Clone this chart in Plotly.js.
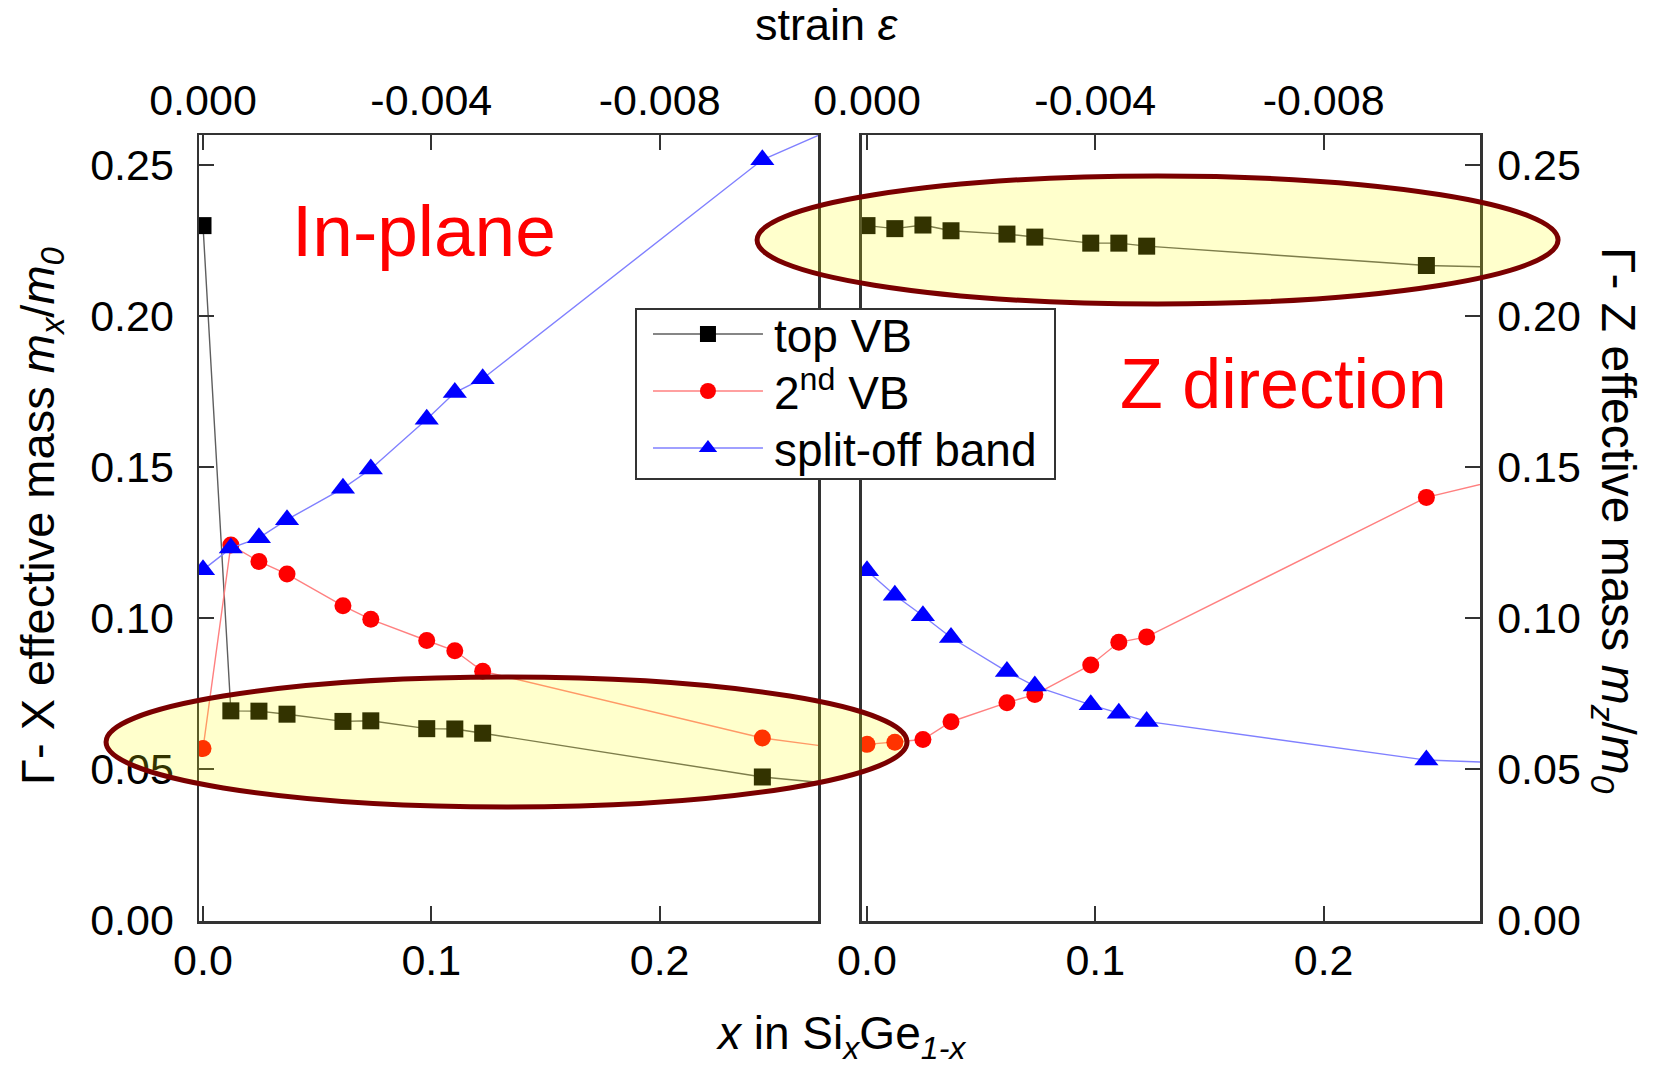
<!DOCTYPE html>
<html>
<head>
<meta charset="utf-8">
<script src="https://cdn.plot.ly/plotly-3.0.1.min.js"></script>
<style>
  html, body { margin: 0; padding: 0; background: #fff; }
  #chart { width: 1657px; height: 1065px; }
</style>
</head>
<body>
<div id="chart"></div>
<script>
// Si fraction x of the SixGe1-x alloy (last point lies beyond the visible range)
const siFraction = [0, 0.0122, 0.0245, 0.0368, 0.0613, 0.0735, 0.098, 0.1103, 0.1225, 0.245, 0.5];

// In-plane (Γ-X) effective masses, m_x/m_0
const topVB_inPlane    = [0.230, 0.0693, 0.0692, 0.0682, 0.0658, 0.0660, 0.0634, 0.0633, 0.0619, 0.0474, 0.0293];
const secondVB_inPlane = [0.0568, 0.1242, 0.1188, 0.1146, 0.1041, 0.0996, 0.0926, 0.0892, 0.0824, 0.0603, 0.0348];
const splitOff_inPlane = [0.1160, 0.1232, 0.1266, 0.1326, 0.1430, 0.1494, 0.1659, 0.1747, 0.1793, 0.2518, 0.336];

// Z direction (Γ-Z) effective masses, m_z/m_0
const topVB_zDir    = [0.2300, 0.2290, 0.2302, 0.2283, 0.2272, 0.2262, 0.2242, 0.2242, 0.2232, 0.2168, 0.212];
const secondVB_zDir = [0.0582, 0.0589, 0.0598, 0.0657, 0.0720, 0.0747, 0.0845, 0.0920, 0.0938, 0.1400, 0.186];
const splitOff_zDir = [0.1157, 0.1076, 0.1008, 0.0936, 0.0823, 0.0775, 0.0713, 0.0685, 0.0658, 0.0530, 0.046];

// Series names
const seriesNames = ['top VB', '2<sup>nd</sup> VB', 'split-off band'];

// Tick labels
const xTickVals = [0, 0.1, 0.2];
const xTickText = ['0.0', '0.1', '0.2'];
const strainTickVals = [0, -0.004, -0.008];
const strainTickText = ['0.000', '-0.004', '-0.008'];
const massTickVals = [0, 0.05, 0.10, 0.15, 0.20, 0.25];
const massTickText = ['0.00', '0.05', '0.10', '0.15', '0.20', '0.25'];

// Strain scale: ε = -0.04·x
const strainPerX = -0.04;

const FONT = 'Liberation Sans, Arial, Helvetica, sans-serif';

const styles = [
  { symbol: 'square',      size: 17, color: '#000000', line: '#5e5e5e' },
  { symbol: 'circle',      size: 17, color: '#ff0000', line: '#ff8080' },
  { symbol: 'triangle-up', size: 21, color: '#0000ff', line: '#8080ff' }
];

function series(y, i, xa, ya, showLegend) {
  const s = styles[i];
  return {
    type: 'scatter', mode: 'lines+markers',
    x: siFraction, y: y, xaxis: xa, yaxis: ya,
    name: seriesNames[i], showlegend: showLegend,
    line: { color: s.line, width: 1.4 },
    marker: { symbol: s.symbol, size: s.size, color: s.color, line: { width: 0 } },
    cliponaxis: true
  };
}

// empty traces that attach the top strain axes to each panel
function strainAxisHolder(xa, ya) {
  return {
    type: 'scatter', mode: 'markers', x: strainTickVals, y: strainTickVals.map(() => null),
    xaxis: xa, yaxis: ya, showlegend: false, hoverinfo: 'skip'
  };
}

const traces = [
  series(topVB_inPlane, 0, 'x', 'y', true),
  series(secondVB_inPlane, 1, 'x', 'y', true),
  series(splitOff_inPlane, 2, 'x', 'y', true),
  series(topVB_zDir, 0, 'x2', 'y2', false),
  series(secondVB_zDir, 1, 'x2', 'y2', false),
  series(splitOff_zDir, 2, 'x2', 'y2', false),
  strainAxisHolder('x3', 'y'),
  strainAxisHolder('x4', 'y2')
];

const axisBase = {
  showline: true, linecolor: '#333', linewidth: 2.5,
  ticks: 'inside', ticklen: 15, tickwidth: 2, tickcolor: '#333',
  tickfont: { family: FONT, size: 43, color: '#000' },
  showgrid: false, zeroline: false, fixedrange: true
};

const xRangeL = [-0.00175, 0.2694];
const xRangeR = [-0.0022, 0.2685];
const yRange = [-0.0003, 0.2600];
const yDomain = [0.1352, 0.8732];

const layout = {
  width: 1657, height: 1065,
  margin: { l: 0, r: 0, t: 0, b: 0 },
  paper_bgcolor: '#fff', plot_bgcolor: 'rgba(0,0,0,0)',
  font: { family: FONT, color: '#000' },
  showlegend: true,
  xaxis:  Object.assign({}, axisBase, { domain: [0.1201, 0.4937], range: xRangeL, anchor: 'y',
            tickmode: 'array', tickvals: xTickVals, ticktext: xTickText }),
  xaxis2: Object.assign({}, axisBase, { domain: [0.5202, 0.8932], range: xRangeR, anchor: 'y2',
            tickmode: 'array', tickvals: xTickVals, ticktext: xTickText }),
  xaxis3: Object.assign({}, axisBase, { overlaying: 'x', side: 'top', anchor: 'y',
            range: xRangeL.map(v => v * strainPerX),
            tickmode: 'array', tickvals: strainTickVals, ticktext: strainTickText }),
  xaxis4: Object.assign({}, axisBase, { overlaying: 'x2', side: 'top', anchor: 'y2',
            range: xRangeR.map(v => v * strainPerX),
            tickmode: 'array', tickvals: strainTickVals, ticktext: strainTickText }),
  yaxis:  Object.assign({}, axisBase, { domain: yDomain, range: yRange, anchor: 'x', side: 'left',
            mirror: true, ticklabelstandoff: 14,
            tickmode: 'array', tickvals: massTickVals, ticktext: massTickText }),
  yaxis2: Object.assign({}, axisBase, { domain: yDomain, range: yRange, anchor: 'x2', side: 'right',
            mirror: true, ticklabelstandoff: 6,
            tickmode: 'array', tickvals: massTickVals, ticktext: massTickText }),
  legend: {
    x: 0.3832, y: 0.7108, xanchor: 'left', yanchor: 'top',
    bgcolor: '#fff', bordercolor: '#333', borderwidth: 2,
    font: { family: FONT, size: 46, color: '#000' },
    itemwidth: 127, tracegroupgap: 0
  },
  shapes: [
    { type: 'circle', xref: 'paper', yref: 'paper', layer: 'above',
      x0: 0.0640, x1: 0.5474, y0: 0.2423, y1: 0.3643,
      fillcolor: 'rgba(255,255,0,0.2)', line: { color: '#7a0000', width: 5 } },
    { type: 'circle', xref: 'paper', yref: 'paper', layer: 'above',
      x0: 0.4569, x1: 0.9403, y0: 0.7146, y1: 0.8347,
      fillcolor: 'rgba(255,255,0,0.2)', line: { color: '#7a0000', width: 5 } }
  ],
  annotations: [
    { text: 'strain <i>ε</i>', xref: 'paper', yref: 'paper', x: 0.499, y: 0.977,
      xanchor: 'center', yanchor: 'middle', showarrow: false,
      font: { family: FONT, size: 45, color: '#000' } },
    { text: '<i>x</i> in Si<sub><i>x</i></sub>Ge<sub><i>1-x</i></sub>', xref: 'paper', yref: 'paper',
      x: 0.508, y: 0.0265, xanchor: 'center', yanchor: 'middle', showarrow: false,
      font: { family: FONT, size: 46, color: '#000' } },
    { text: 'Γ- X effective mass <i>m<sub>x</sub></i>/<i>m<sub>0</sub></i>', xref: 'paper', yref: 'paper',
      x: 0.025, y: 0.516, xanchor: 'center', yanchor: 'middle', textangle: -90, showarrow: false,
      font: { family: FONT, size: 47, color: '#000' } },
    { text: 'Γ- Z effective mass <i>m<sub>z</sub></i>/<i>m<sub>0</sub></i>', xref: 'paper', yref: 'paper',
      x: 0.9745, y: 0.511, xanchor: 'center', yanchor: 'middle', textangle: 90, showarrow: false,
      font: { family: FONT, size: 48, color: '#000' } },
    { text: 'In-plane', xref: 'paper', yref: 'paper', x: 0.2559, y: 0.7835,
      xanchor: 'center', yanchor: 'middle', showarrow: false,
      font: { family: FONT, size: 73, color: '#ff0000' } },
    { text: 'Z direction', xref: 'paper', yref: 'paper', x: 0.7743, y: 0.639,
      xanchor: 'center', yanchor: 'middle', showarrow: false,
      font: { family: FONT, size: 70, color: '#ff0000' } }
  ]
};

const gd = document.getElementById('chart');
Plotly.newPlot(gd, traces, layout, { staticPlot: true, displayModeBar: false }).then(() => {
  // longer legend sample lines with the symbol centred on them
  gd.querySelectorAll('.legend .legendlines path').forEach(p => p.setAttribute('d', 'M16,0h110'));
  gd.querySelectorAll('.legend .legendpoints path.scatterpts').forEach(p => p.setAttribute('transform', 'translate(71,0)'));
  // tighter legend rows inside a wider box
  gd.querySelectorAll('.legend g.traces').forEach((g, i) => {
    const m = /translate\(\s*([-\d.]+)[ ,]+([-\d.]+)\s*\)/.exec(g.getAttribute('transform') || '');
    if (m) g.setAttribute('transform', 'translate(' + m[1] + ',' + (26 + i * 57) + ')');
  });
  const bg = gd.querySelector('.legend rect.bg');
  if (bg) { bg.setAttribute('width', 419); bg.setAttribute('height', 170); }
});
</script>
</body>
</html>
